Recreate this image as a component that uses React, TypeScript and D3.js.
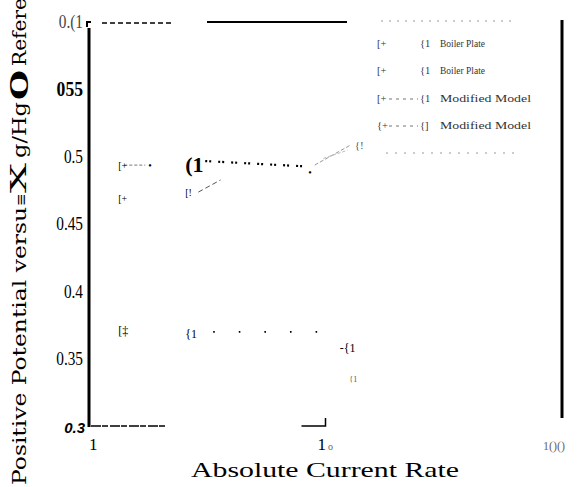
import * as d3 from "d3";

// y ticks as printed on the page
const yTickValues = [0.6, 0.55, 0.5, 0.45, 0.4, 0.35, 0.3];
const yTickLabels = ["0.(1", "055", "0.5", "0.45", "0.4", "0.35", "0.3"];

const xTickValues = [1, 10, 100];
const xTickLabels = ["1", "1", "1()()"];

// upper curve (Modified Model)
const upperX = [1.33, 1.81, 2.55, 8.6, 13.3];
const upperY = [0.494, 0.494, 0.494, 0.489, 0.509];
const upperMarks = ["[+", "•", "(1", "•", "{!"];

// second curve (Boiler Plate)
const midX = [1.33, 2.55, 3.6];
const midY = [0.470, 0.474, 0.483];
const midMarks = ["[+", "[!", ""];

// lower curve
const lowX = [1.33, 2.55, 12.4, 13.1];
const lowY = [0.372, 0.370, 0.359, 0.337];
const lowMarks = ["[‡", "{1", "-{1", "{1"];

const legendLabels = ["Boiler Plate", "Boiler Plate", "Modified Model", "Modified Model"];
const legendLeftMarks = ["[+", "[+", "[+", "{+"];
const legendRightMarks = ["{1", "{1", "{1", "{]"];

const width = 580;
const height = 487;

export default function App() {
  const x = d3.scaleLog().domain([1, 100]).range([89, 562]);
  const y = d3.scaleLinear().domain([0.3, 0.6]).range([427, 22]);

  const seg = (x0: number, y0: number, x1: number, y1: number) =>
    `M${x(x0)},${y(y0)}L${x(x1)},${y(y1)}`;

  const serif = "'Liberation Serif', 'Times New Roman', serif";

  return (
    <div style={{ position: "absolute", left: 0, top: 0 }}>
      <svg width={width} height={height} viewBox={`0 0 ${width} ${height}`} style={{ display: "block", background: "#fff" }}>
        {/* frame pieces */}
        <line x1={89} x2={89} y1={28} y2={427} stroke="#000" strokeWidth={3} />
        <path d="M87,27 L87,22 L91,22" fill="none" stroke="#000" strokeWidth={2} />
        <line x1={102} x2={174} y1={y(0.6) + 1} y2={y(0.6) + 1} stroke="#000" strokeWidth={1.5} strokeDasharray="5,3" />
        <line x1={207} x2={347} y1={y(0.6)} y2={y(0.6)} stroke="#000" strokeWidth={2} />
        <line x1={562} x2={562} y1={20} y2={418} stroke="#000" strokeWidth={3} />
        <line x1={91} x2={165} y1={y(0.3) - 1} y2={y(0.3) - 1} stroke="#000" strokeWidth={1.5} strokeDasharray="10,1,6,2" />
        <path d={`M${x(10) - 24},${y(0.3) - 1} L${x(10)},${y(0.3) - 1} L${x(10)},${y(0.3) - 9}`} fill="none" stroke="#000" strokeWidth={1.5} />

        {/* y tick labels */}
        {yTickValues.map((v, i) => {
          const bold = i === 1;
          const sans = i === 6;
          const ax = sans ? 85 : 83;
          return (
            <text
              key={i}
              x={ax}
              y={y(v) + (bold ? 7 : 6)}
              textAnchor="end"
              fontFamily={sans ? "'Liberation Sans', Arial, sans-serif" : serif}
              fontWeight={bold || sans ? "bold" : "normal"}
              fontStyle={sans ? "italic" : "normal"}
              fontSize={bold ? 22 : sans ? 15 : 18}
              fill={i === 0 ? "#444" : "#000"}
              transform={sans ? undefined : `translate(${ax} ${y(v)}) scale(${bold ? 0.8 : 0.85} 1) translate(${-ax} ${-y(v)})`}
            >
              {yTickLabels[i]}
            </text>
          );
        })}

        {/* x tick labels */}
        {xTickValues.map((v, i) => (
          <text
            key={i}
            x={i === 2 ? x(v) - 8 : x(v) - (i === 1 ? 8 : 0)}
            y={450}
            textAnchor={i === 2 ? "middle" : "start"}
            fontFamily={serif}
            fontSize={i === 2 ? 12 : 17}
            fill={i === 2 ? "#666" : "#000"}
          >
            {xTickLabels[i]}
            {i === 1 && <tspan fontSize={10} fill="#666" dx={2}>o</tspan>}
          </text>
        ))}

        {/* axis titles */}
        <text x={325} y={477} textAnchor="middle" fontFamily={serif} fontSize={21} textLength={268} lengthAdjust="spacingAndGlyphs">
          Absolute Current Rate
        </text>
        <g fontFamily="'DejaVu Serif', serif" fill="#000">
          <text transform="translate(26 485) rotate(-90)" fontSize={19} textLength={278} lengthAdjust="spacingAndGlyphs">Positive Potential versu</text>
          <text transform="translate(26 206) rotate(-90)" fontSize={15} textLength={12}>≡</text>
          <text transform="translate(26 193) rotate(-90)" fontSize={22} textLength={30} lengthAdjust="spacingAndGlyphs">X</text>
          <text transform="translate(26 158) rotate(-90)" fontSize={19} textLength={56} lengthAdjust="spacingAndGlyphs">g/Hg</text>
          <text transform="translate(28 100) rotate(-90)" fontSize={24} fontWeight="bold" textLength={30} lengthAdjust="spacingAndGlyphs">O</text>
          <text transform="translate(26 66) rotate(-90)" fontSize={19} textLength={68} lengthAdjust="spacingAndGlyphs">Refere</text>
        </g>

        {/* curve segments */}
        <g fill="none">
          <path d={seg(upperX[0] + 0.08, upperY[0], upperX[1] - 0.08, upperY[1])} stroke="#777" strokeWidth={1} strokeDasharray="3,2" />
          <path d={seg(upperX[2] + 0.55, upperY[2] + 0.003, upperX[3] - 0.3, upperY[3] + 0.004)} stroke="#000" strokeWidth={2.2} strokeDasharray="2,2,2,7" />
          <path d={seg(upperX[3] + 0.4, upperY[3] + 0.005, upperX[4] - 0.5, upperY[4])} stroke="#999" strokeWidth={1} strokeDasharray="4,2" />
          <path d={seg(upperX[3] + 1.2, upperY[3] + 0.01, upperX[4] - 0.9, upperY[4] - 0.004)} stroke="#bbb" strokeWidth={1} strokeDasharray="3,2" />
          <path d={seg(midX[1] + 0.35, midY[1], midX[2], midY[2])} stroke="#555" strokeWidth={1} strokeDasharray="5,3" />
          <path d={seg(lowX[1] + 0.8, lowY[1] + 0.0005, lowX[2] - 2.5, lowY[1] + 0.0005)} stroke="#000" strokeWidth={1.6} strokeDasharray="1.6,24" />
        </g>

        {/* point marks */}
        <g fontFamily={serif} fill="#000">
          {upperX.map((v, i) => (
            <text key={`u${i}`} x={x(v)} y={y(upperY[i]) + (i === 2 ? 7 : 4)} fontSize={i === 2 ? 22 : i === 4 ? 11 : 10}
              fontWeight={i === 2 ? "bold" : "normal"} fill={i === 4 ? "#555" : "#000"} textAnchor={i === 1 || i === 3 ? "middle" : "start"}>
              {upperMarks[i]}
            </text>
          ))}
          {midX.map((v, i) => (
            <text key={`m${i}`} x={x(v)} y={y(midY[i]) + 4} fontSize={10}>{midMarks[i]}</text>
          ))}
          {lowX.map((v, i) => (
            <text key={`l${i}`} x={x(v)} y={y(lowY[i]) + 5} fontSize={i === 3 ? 8 : 12} fill={i === 3 ? "#555" : "#000"} textAnchor={i >= 2 ? "middle" : "start"}>
              {lowMarks[i]}
            </text>
          ))}
        </g>

        {/* legend */}
        <g fontFamily={serif} fontSize={10.5} fill="#333">
          <line x1={381} x2={515} y1={21} y2={21} stroke="#999" strokeWidth={1} strokeDasharray="2,6" />
          {legendLabels.map((lab, i) => {
            const ly = [44, 71, 99, 126][i];
            return (
              <g key={i}>
                <text x={377} y={ly + 3}>{legendLeftMarks[i]}</text>
                {i >= 2 && <line x1={389} x2={418} y1={ly} y2={ly} stroke="#777" strokeDasharray="3,4" />}
                <text x={420} y={ly + 3}>{legendRightMarks[i]}</text>
                <text x={440} y={ly + 3} textLength={i < 2 ? 45 : 91} lengthAdjust="spacingAndGlyphs">{lab}</text>
              </g>
            );
          })}
          <line x1={386} x2={520} y1={153} y2={153} stroke="#999" strokeWidth={1} strokeDasharray="2,7" />
        </g>
      </svg>
    </div>
  );
}
